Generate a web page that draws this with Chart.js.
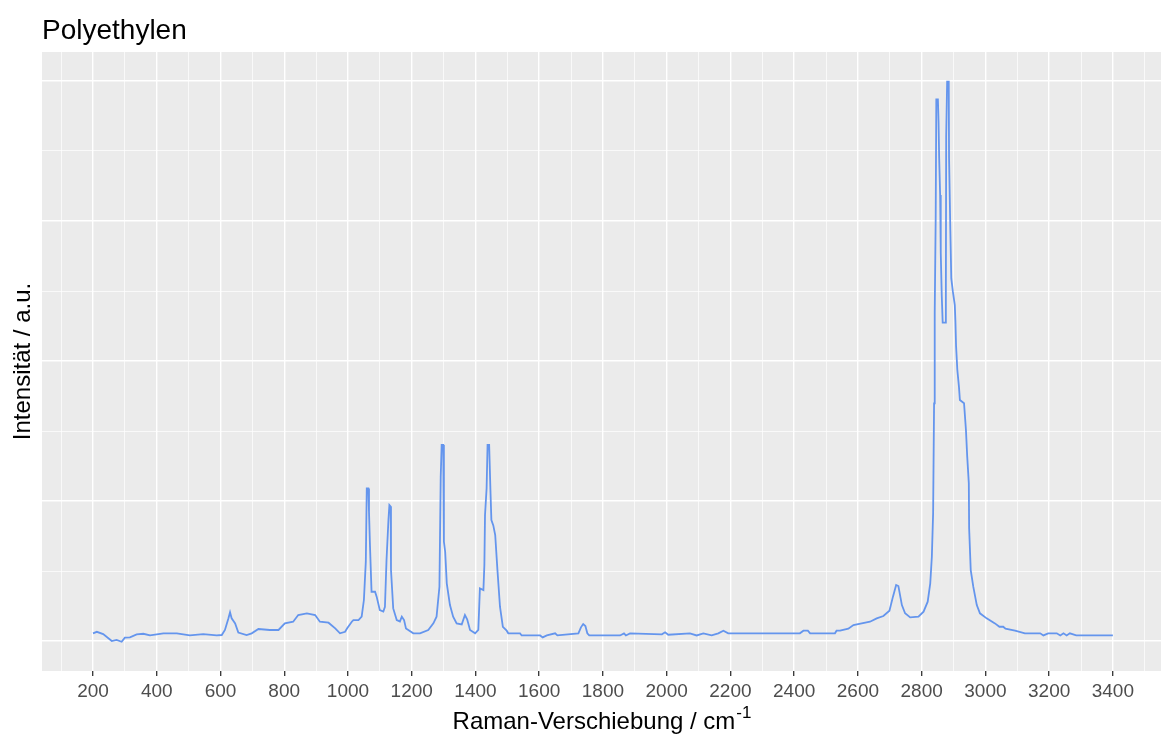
<!DOCTYPE html>
<html lang="de">
<head>
<meta charset="utf-8">
<title>Polyethylen</title>
<script src="https://cdn.jsdelivr.net/npm/chart.js@4/dist/chart.umd.min.js"></script>
<style>
  html, body { margin: 0; padding: 0; background: #fff; }
  canvas { display: block; }
</style>
</head>
<body>
<canvas id="spektrum" width="1161" height="738"></canvas>
<script>
// Raman-Spektrum: Verschiebung in cm-1 und Intensität (a.u.)
const ramanVerschiebung = [
  200, 212, 232, 259, 274, 290, 300, 316, 337, 358, 379, 421, 463, 504, 546, 588,
  604, 614, 625, 630, 635, 646, 656, 682, 698, 719, 755, 782, 802, 828, 844, 871,
  897, 912, 939, 960, 975, 991, 997, 1012, 1017, 1033, 1043, 1050, 1056, 1059, 1064, 1066,
  1069, 1074, 1085, 1090, 1100, 1111, 1116, 1121, 1127, 1130, 1134, 1135, 1142, 1153, 1163, 1169,
  1176, 1182, 1205, 1226, 1252, 1268, 1278, 1287, 1291, 1294, 1299, 1301, 1305, 1310, 1320, 1330,
  1341, 1357, 1367, 1374, 1383, 1399, 1409, 1414, 1425, 1428, 1430, 1435, 1438, 1443, 1447, 1450,
  1456, 1462, 1469, 1477, 1486, 1498, 1503, 1540, 1545, 1603, 1611, 1624, 1650, 1657, 1723, 1731,
  1738, 1745, 1751, 1757, 1854, 1866, 1872, 1885, 1985, 1995, 2005, 2073, 2094, 2115, 2141, 2162,
  2178, 2193, 2418, 2429, 2443, 2450, 2528, 2533, 2544, 2570, 2586, 2612, 2638, 2659, 2680, 2699,
  2710, 2720, 2727, 2738, 2748, 2764, 2790, 2806, 2819, 2827, 2832, 2836, 2839, 2841, 2844, 2846,
  2851, 2853, 2855, 2858, 2860, 2863, 2866, 2875, 2876, 2877, 2880, 2885, 2886, 2890, 2893, 2898,
  2901, 2904, 2906, 2908, 2912, 2917, 2920, 2933, 2939, 2943, 2948, 2949, 2954, 2962, 2973, 2983,
  3004, 3030, 3044, 3056, 3063, 3093, 3124, 3172, 3182, 3197, 3224, 3235, 3245, 3255, 3265, 3285,
  3400
];
const intensitaet = [
  55, 66, 50, 0, 8, -5, 24, 26, 48, 52, 40, 55, 55, 40, 50, 40,
  43, 79, 162, 205, 162, 126, 60, 43, 55, 86, 79, 79, 126, 138, 186, 198,
  186, 138, 131, 90, 55, 66, 90, 138, 150, 150, 174, 293, 567, 1090, 1090, 924,
  686, 352, 352, 317, 221, 210, 245, 579, 864, 971, 960, 507, 233, 150, 140, 174,
  150, 90, 55, 55, 79, 126, 174, 388, 1174, 1400, 1400, 710, 638, 412, 257, 174,
  126, 119, 186, 155, 79, 55, 79, 376, 364, 543, 900, 1090, 1400, 1400, 1079, 864,
  826, 757, 507, 245, 102, 74, 55, 55, 40, 40, 26, 40, 55, 40, 55, 98,
  121, 107, 55, 40, 40, 55, 40, 55, 48, 62, 45, 55, 40, 55, 40, 55,
  74, 55, 55, 74, 74, 55, 55, 74, 74, 88, 114, 126, 138, 162, 179, 217,
  317, 400, 393, 257, 198, 169, 174, 210, 281, 412, 602, 912, 1698, 2343, 3007, 3869,
  3869, 3710, 3448, 3186, 2769, 2471, 2274, 2274, 2512, 3602, 3995, 3995, 3452, 2936, 2590, 2495,
  2448, 2400, 2281, 2107, 1936, 1817, 1721, 1698, 1507, 1317, 1126, 805, 507, 388, 257, 198,
  162, 126, 102, 102, 88, 74, 55, 55, 40, 55, 55, 40, 55, 40, 55, 40,
  40
];

// Achsen: Hilfslinien alle 100 bzw. 500, Beschriftung alle 200
const xTicks = [];
for (let v = 100; v <= 3500; v += 100) xTicks.push(v);
const yTicks = [0, 500, 1000, 1500, 2000, 2500, 3000, 3500, 4000];

const schrift = 'Liberation Sans, Arial, sans-serif';

const punkte = ramanVerschiebung.map((x, i) => ({ x, y: intensitaet[i] }));

// grauer Plot-Hintergrund
const hintergrund = {
  id: 'hintergrund',
  beforeDraw(chart) {
    const { ctx, chartArea: a } = chart;
    ctx.save();
    ctx.fillStyle = '#ffffff';
    ctx.fillRect(0, 0, chart.width, chart.height);
    ctx.fillStyle = '#EBEBEB';
    ctx.fillRect(a.left, a.top, a.right - a.left, a.bottom - a.top);
    ctx.restore();
  }
};

// Titel und Achsentitel (mit Hochstellung cm^-1)
const beschriftung = {
  id: 'beschriftung',
  afterDraw(chart) {
    const { ctx, chartArea: a } = chart;
    ctx.save();
    ctx.fillStyle = '#000';
    ctx.textBaseline = 'alphabetic';

    ctx.font = `28px ${schrift}`;
    ctx.textAlign = 'left';
    ctx.fillText('Polyethylen', a.left, 39);

    const haupt = 'Raman-Verschiebung / cm';
    const hoch = '-1';
    ctx.font = `24px ${schrift}`;
    const b1 = ctx.measureText(haupt).width;
    ctx.font = `17px ${schrift}`;
    const b2 = ctx.measureText(hoch).width;
    const start = (a.left + a.right) / 2 - (b1 + b2) / 2;
    ctx.font = `24px ${schrift}`;
    ctx.fillText(haupt, start, 729);
    ctx.font = `17px ${schrift}`;
    ctx.fillText(hoch, start + b1 + 1, 718);

    ctx.translate(30, (a.top + a.bottom) / 2);
    ctx.rotate(-Math.PI / 2);
    ctx.font = `24px ${schrift}`;
    ctx.textAlign = 'center';
    ctx.fillText('Intensität / a.u.', 0, 0);
    ctx.restore();
  }
};

new Chart(document.getElementById('spektrum'), {
  type: 'line',
  data: {
    datasets: [{
      data: punkte,
      borderColor: '#6495ED',
      borderWidth: 1.8,
      pointRadius: 0,
      tension: 0,
      fill: false
    }]
  },
  options: {
    responsive: false,
    animation: false,
    devicePixelRatio: 1,
    layout: { padding: { top: 52, right: 0, left: 0, bottom: 0 } },
    plugins: {
      legend: { display: false },
      tooltip: { enabled: false },
      title: { display: false }
    },
    scales: {
      x: {
        type: 'linear',
        min: 40,
        max: 3551,
        afterBuildTicks: s => { s.ticks = xTicks.map(value => ({ value })); },
        afterFit: s => { s.height = 67; },
        border: { display: false },
        grid: {
          color: '#ffffff',
          lineWidth: c => (c.tick && c.tick.value % 200 === 0 ? 1.4 : 0.7),
          tickLength: 5,
          tickWidth: 1.3,
          tickColor: c => (c.tick && c.tick.value % 200 === 0 ? '#333333' : 'rgba(0,0,0,0)')
        },
        ticks: {
          autoSkip: false,
          maxRotation: 0,
          padding: 4,
          color: '#4D4D4D',
          font: { family: schrift, size: 19 },
          callback: v => (v % 200 === 0 ? String(v) : '')
        }
      },
      y: {
        type: 'linear',
        min: -214,
        max: 4207,
        afterBuildTicks: s => { s.ticks = yTicks.map(value => ({ value })); },
        afterFit: s => { s.width = 42; },
        border: { display: false },
        grid: {
          color: '#ffffff',
          lineWidth: c => (c.tick && c.tick.value % 1000 === 0 ? 1.4 : 0.7),
          drawTicks: false
        },
        ticks: { display: false }
      }
    }
  },
  plugins: [hintergrund, beschriftung]
});
</script>
</body>
</html>
